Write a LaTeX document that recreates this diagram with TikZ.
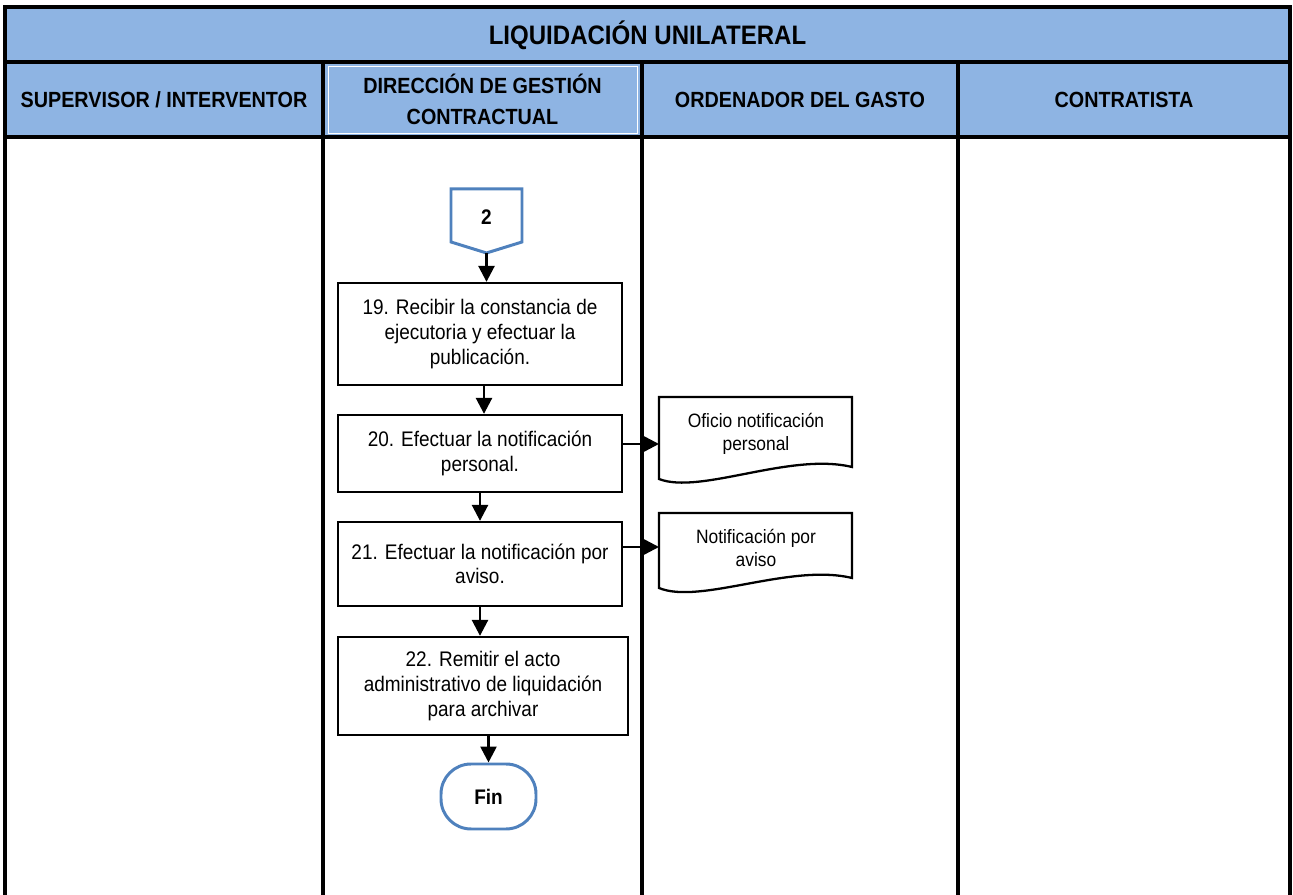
\documentclass[tikz,border=0pt]{standalone}
\usepackage{fontspec}
\setmainfont{Liberation Sans}[FakeStretch=0.9]
\usetikzlibrary{arrows.meta}
\definecolor{lanefill}{RGB}{142,180,227}
\definecolor{shapeblue}{RGB}{79,129,189}
\tikzset{
  lane/.style={line width=2.3pt},
  head/.style={font=\fontsize{12.5}{18}\selectfont\bfseries, align=center},
  stepbox/.style={draw, line width=1.3pt, minimum width=5.68cm, align=center, font=\fontsize{12}{14}\selectfont, inner sep=2pt},
  doctext/.style={font=\fontsize{11}{13}\selectfont, align=center},
  docshape/.style={line width=1.3pt},
  arr/.style={line width=1.5pt, -{Triangle[length=0.32cm,width=0.32cm]}},
}
\begin{document}
\begin{tikzpicture}
    \useasboundingbox (0,0) rectangle (25.86,17.9);
    % title band and lane heads
    \fill[lanefill] (0.1,17.76) rectangle (25.8,15.16);
    \draw[white, line width=0.4pt] (6.56,16.58) rectangle (12.74,15.24);
    \draw[lane] (0.1,0) -- (0.1,17.76) -- (25.8,17.76) -- (25.8,0);
    \draw[lane] (0.1,16.66) -- (25.8,16.66);
    \draw[lane] (0.1,15.16) -- (25.8,15.16);
    \foreach \x in {6.46,12.84,19.16}
      \draw[lane] (\x,0) -- (\x,16.66);
    \node[font=\fontsize{15.2}{18}\selectfont\bfseries] (title) at (12.95,17.19) {LIQUIDACIÓN UNILATERAL};
    \node[head] (h1) at (3.28,15.91) {SUPERVISOR / INTERVENTOR};
    \node[head] (h2) at (9.65,15.91) {DIRECCIÓN DE GESTIÓN\\CONTRACTUAL};
    \node[head] (h3) at (16.0,15.91) {ORDENADOR DEL GASTO};
    \node[head] (h4) at (22.48,15.91) {CONTRATISTA};
    % off-page connector
    \def\cx{9.73}
    \draw[shapeblue, line width=1.7pt, fill=white] (9.02,14.12) -- (10.44,14.12) -- (10.44,13.06) -- (\cx,12.84) -- (9.02,13.06) -- cycle;
    \coordinate (c2tip) at (\cx,12.84);
    \node[font=\bfseries\fontsize{12}{14}\selectfont] (c2) at (\cx,13.56) {2};
    % steps
    \node[stepbox, minimum height=2.04cm] (b19) at (9.6,11.22) {19. Recibir la constancia de\\ejecutoria y efectuar la\\publicación.};
    \node[stepbox, minimum height=1.54cm] (b20) at (9.6,8.83) {20. Efectuar la notificación\\personal.};
    \node[stepbox, minimum height=1.68cm] (b21) at (9.6,6.62) {21. Efectuar la notificación por\\aviso.};
    \node[stepbox, minimum height=1.96cm, minimum width=5.8cm] (b22) at (9.66,4.18) {22. Remitir el acto\\administrativo de liquidación\\para archivar};
    \node[draw=shapeblue, line width=1.7pt, rounded corners=0.6cm, minimum width=1.9cm, minimum height=1.3cm, font=\bfseries\fontsize{12}{14}\selectfont] (fin) at (9.77,1.97) {Fin};
    % documents
    \draw[docshape] (13.18,9.96) -- (17.04,9.96) -- (17.04,8.56) .. controls (15.8,8.86) and (14.0,8.0) .. (13.18,8.32) -- cycle;
    \node[doctext] (d1) at (15.12,9.22) {Oficio notificación\\personal};
    \coordinate (d1w) at (13.18,9.02);
    \draw[docshape] (13.18,7.64) -- (17.04,7.64) -- (17.04,6.34) .. controls (15.8,6.64) and (14.0,5.8) .. (13.18,6.14) -- cycle;
    \node[doctext] (d2) at (15.12,6.94) {Notificación por\\aviso};
    \coordinate (d2w) at (13.18,6.96);
    % flow
    \draw[arr] (c2tip) -- (c2tip |- b19.north);
    \draw[arr] ([xshift=0.08cm]b19.south) -- ([xshift=0.08cm]b20.north);
    \draw[arr] (b20.south) -- (b21.north);
    \draw[arr] (b21.south) -- (b21.south |- b22.north);
    \draw[arr] (fin.north |- b22.south) -- (fin.north);
    \draw[arr] (b20.east |- d1w) -- (d1w);
    \draw[arr] (b21.east |- d2w) -- (d2w);
\end{tikzpicture}
\end{document}
